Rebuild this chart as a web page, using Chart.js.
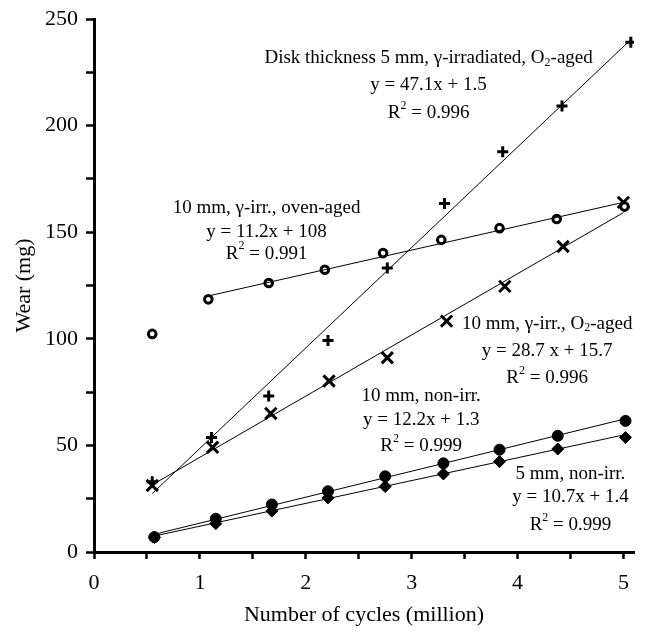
<!DOCTYPE html>
<html>
<head>
<meta charset="utf-8">
<script src="https://cdn.jsdelivr.net/npm/chart.js@4/dist/chart.umd.min.js"></script>
<style>
  html, body { margin: 0; padding: 0; background: #fff; }
  #wrap { width: 647px; height: 632px; }
</style>
</head>
<body>
<div id="wrap"><canvas id="wearChart" width="647" height="632"></canvas></div>
<script>
const xOven = [0.55, 1.08, 1.65, 2.18, 2.73, 3.28, 3.83, 4.37, 5.01];
const yOven = [102.3, 118.5, 126.2, 132.4, 140.2, 146.4, 151.9, 156.2, 162];

const x5mmO2 = [0.55, 1.11, 1.65, 2.21, 2.77, 3.31, 3.86, 4.42, 5.07];
const y5mmO2 = [33, 53.7, 73.2, 99.2, 133.2, 163.5, 187.7, 209.2, 239.1];

const x10mmO2 = [0.55, 1.12, 1.67, 2.22, 2.77, 3.33, 3.88, 4.43, 5.0];
const y10mmO2 = [31.2, 49.1, 65, 80.2, 91.1, 108.3, 124.6, 143.3, 164];

const xNonIrr = [0.57, 1.15, 1.68, 2.21, 2.75, 3.30, 3.83, 4.38, 5.02];
const y10mmNonIrr = [7, 15.6, 22.3, 28.5, 35.5, 41.6, 48, 54.5, 61.5];
const y5mmNonIrr = [6.8, 13.3, 19.2, 25.4, 30.7, 36.6, 42.4, 48.3, 53.7];

// 추세선 양 끝점
const fitOvenX = [1.08, 5.0];
const fitOvenY = [120.1, 164];
const fit5mmO2X = [0.55, 5.05];
const fit5mmO2Y = [27.4, 239.4];
const fit10mmO2X = [0.55, 5.0];
const fit10mmO2Y = [31.5, 159.2];
const fit10mmNonIrrX = [0.57, 5.02];
const fit10mmNonIrrY = [8.3, 62.5];
const fit5mmNonIrrX = [0.57, 5.02];
const fit5mmNonIrrY = [7.5, 55.1];

// 축 눈금
const xTickLabels = ['0', '1', '2', '3', '4', '5'];
const yTickLabels = ['0', '50', '100', '150', '200', '250'];

// 주석 텍스트 (^ 위첨자, _ 아래첨자)
const annotations = [
  { x: 3.16, y: [231.6, 219.2, 205.7], lines: ['Disk thickness 5 mm, \u03b3-irradiated, O_2-aged', 'y = 47.1x + 1.5', 'R^2 = 0.996'] },
  { x: 1.63, y: [161.5, 150.1, 140.0], lines: ['10 mm, \u03b3-irr., oven-aged', 'y = 11.2x + 108', 'R^2 = 0.991'] },
  { x: 4.28, y: [107.0, 94.3, 81.6], lines: ['10 mm, \u03b3-irr., O_2-aged', 'y = 28.7 x + 15.7', 'R^2 = 0.996'] },
  { x: 3.09, y: [73.2, 62.0, 49.9], lines: ['10 mm, non-irr.', 'y = 12.2x + 1.3', 'R^2 = 0.999'] },
  { x: 4.5, y: [36.8, 25.6, 12.5], lines: ['5 mm, non-irr.', 'y = 10.7x + 1.4', 'R^2 = 0.999'] },
];

const FONT = "'Liberation Serif', 'Times New Roman', serif";

function pts(xs, ys) {
  return xs.map((x, i) => ({ x: x, y: ys[i] }));
}

function fitLine(xs, ys) {
  return {
    data: pts(xs, ys),
    showLine: true,
    borderColor: '#000',
    borderWidth: 1,
    pointRadius: 0,
    fill: false,
  };
}

function markers(xs, ys, style, radius, filled, bw) {
  return {
    data: pts(xs, ys),
    showLine: false,
    pointStyle: style,
    pointRadius: radius,
    pointBorderColor: '#000',
    pointBackgroundColor: filled ? '#000' : '#fff',
    pointBorderWidth: bw,
  };
}

// 텍스트 한 줄 그리기 (위/아래 첨자 처리)
function parseSegs(str) {
  const segs = [];
  let buf = '';
  for (let i = 0; i < str.length; i++) {
    const c = str[i];
    if ((c === '^' || c === '_') && i + 1 < str.length) {
      if (buf) segs.push({ t: buf, k: 0 });
      buf = '';
      segs.push({ t: str[i + 1], k: c === '^' ? 1 : -1 });
      i++;
    } else {
      buf += c;
    }
  }
  if (buf) segs.push({ t: buf, k: 0 });
  return segs;
}

function drawRich(ctx, str, cx, cy, size) {
  const segs = parseSegs(str);
  const small = Math.round(size * 0.65);
  let total = 0;
  segs.forEach(s => {
    ctx.font = (s.k ? small : size) + 'px ' + FONT;
    s.w = ctx.measureText(s.t).width;
    total += s.w;
  });
  let x = cx - total / 2;
  segs.forEach(s => {
    ctx.font = (s.k ? small : size) + 'px ' + FONT;
    let dy = 0;
    if (s.k === 1) dy = -size * 0.38;
    if (s.k === -1) dy = size * 0.22;
    ctx.fillText(s.t, x, cy + dy);
    x += s.w;
  });
}

const annotationPlugin = {
  id: 'annotationText',
  afterDatasetsDraw(chart) {
    const ctx = chart.ctx;
    const xs = chart.scales.x;
    const ys = chart.scales.y;
    ctx.save();
    ctx.fillStyle = '#000';
    ctx.textAlign = 'left';
    ctx.textBaseline = 'middle';
    annotations.forEach(a => {
      const cx = xs.getPixelForValue(a.x);
      a.lines.forEach((line, i) => {
        drawRich(ctx, line, cx, ys.getPixelForValue(a.y[i]), 19);
      });
    });
    ctx.restore();
  }
};

const data = {
  datasets: [
    fitLine(fit5mmO2X, fit5mmO2Y),
    fitLine(fitOvenX, fitOvenY),
    fitLine(fit10mmO2X, fit10mmO2Y),
    fitLine(fit10mmNonIrrX, fit10mmNonIrrY),
    fitLine(fit5mmNonIrrX, fit5mmNonIrrY),
    markers(xOven, yOven, 'circle', 3.8, false, 3),
    markers(x5mmO2, y5mmO2, 'cross', 5.5, false, 3),
    markers(x10mmO2, y10mmO2, 'crossRot', 8, false, 3),
    markers(xNonIrr, y10mmNonIrr, 'circle', 5.5, true, 1),
    markers(xNonIrr, y5mmNonIrr, 'rectRot', 6, true, 1),
  ],
};

const options = {
  responsive: false,
  animation: false,
  layout: { padding: { top: 16, right: 13, left: 0, bottom: 0 } },
  plugins: {
    legend: { display: false },
    tooltip: { enabled: false },
  },
  scales: {
    x: {
      type: 'linear',
      min: 0,
      max: 5.1,
      border: { color: '#000', width: 3 },
      grid: { drawOnChartArea: false, tickLength: 7, tickColor: '#000', tickWidth: 2.5 },
      ticks: {
        stepSize: 0.5,
        includeBounds: false,
        autoSkip: false,
        maxRotation: 0,
        padding: 11,
        color: '#000',
        font: { family: FONT, size: 22 },
        callback: (v) => xTickLabels.includes(String(v)) ? String(v) : '',
      },
      title: {
        display: true,
        text: 'Number of cycles (million)',
        color: '#000',
        font: { family: FONT, size: 22 },
        padding: { top: 0, bottom: 4 },
      },
      afterFit: (scale) => { scale.height = 80; },
    },
    y: {
      type: 'linear',
      min: 0,
      max: 250,
      border: { color: '#000', width: 3 },
      grid: { drawOnChartArea: false, tickLength: 8, tickColor: '#000', tickWidth: 2.5 },
      ticks: {
        stepSize: 25,
        autoSkip: false,
        padding: 8,
        color: '#000',
        font: { family: FONT, size: 22, lineHeight: 1 },
        callback: (v) => yTickLabels.includes(String(v)) ? String(v) : '',
      },
      title: {
        display: true,
        text: 'Wear (mg)',
        color: '#000',
        font: { family: FONT, size: 22 },
        padding: { top: 11, bottom: 0 },
      },
      afterFit: (scale) => { scale.width = 94; },
    },
  },
};

const ctx = document.getElementById('wearChart').getContext('2d');
const wearChart = new Chart(ctx, {
  type: 'scatter',
  data: data,
  options: options,
  plugins: [annotationPlugin],
});
</script>
</body>
</html>
